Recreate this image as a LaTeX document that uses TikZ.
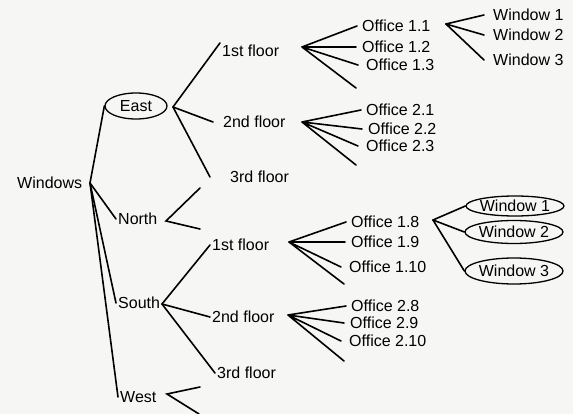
\documentclass[tikz,border=0pt]{standalone}
\usepackage{fontspec}
\setmainfont{Liberation Sans}
\usepackage{tikz}
\usetikzlibrary{shapes.geometric,calc}
\definecolor{paper}{RGB}{246,246,244}

\begin{document}
\begin{tikzpicture}[x=1pt, y=-1pt,
  lbl/.style={anchor=west, inner sep=2pt, font=\fontsize{16}{19}\selectfont},
  oval/.style={draw, ellipse, line width=1.3pt, inner sep=0pt, minimum width=98pt, font=\fontsize{16}{19}\selectfont},
  br/.style={line width=1.6pt, line cap=round}]
  \fill[paper] (0,0) rectangle (573,414);
  \useasboundingbox (0,0) rectangle (573,414);
  % root and the four sides
  \node[lbl] (windows) at (15,183) {Windows};
  \coordinate (winJ) at (90,183);
  \node[oval, minimum width=62pt, minimum height=26pt] (dirE) at (136,106) {East};
  \node[lbl] (dirN) at (116,219) {North};
  \node[lbl] (dirS) at (116,303) {South};
  \node[lbl] (dirW) at (118,397) {West};
  \foreach \n in {dirE.west, dirN.west, dirS.west, dirW.west}
    \draw[br] (winJ) -- (\n);
  % floors
  \coordinate (eJ) at (173,107);
  \node[lbl] (e1) at (220,51) {1st floor};
  \node[lbl] (e2) at (221,122) {2nd floor};
  \node[lbl] (e3) at (228,177) {3rd floor};
  \draw[br] (eJ) -- (e1.north west);
  \draw[br] (eJ) -- ([xshift=-8pt]e2.west);
  \draw[br] (eJ) -- ([xshift=-18pt]e3.west);
  \coordinate (nJ) at (166,221);
  \coordinate (n1) at (200,188);
  \coordinate (n2) at (200,229);
  \draw[br] (n1) -- (nJ) -- (n2);
  \coordinate (sJ) at (162,304);
  \node[lbl] (s1) at (210,245) {1st floor};
  \node[lbl] (s2) at (210,317) {2nd floor};
  \node[lbl] (s3) at (215,373) {3rd floor};
  \foreach \n in {s1, s2, s3}
    \draw[br] (sJ) -- (\n.west);
  \coordinate (wJ) at (167,394);
  \coordinate (w1) at (200,387);
  \coordinate (w2) at (199,414);
  \draw[br] (w1) -- (wJ) -- (w2);
  % offices
  \foreach \n/\x/\y/\t in {o11/360/26/1.1, o12/360/47/1.2, o13/364/65/1.3,
      o21/364/110/2.1, o22/366/129/2.2, o23/364/146/2.3,
      o18/349/222/1.8, o19/349/242/1.9, o110/347/267/1.10,
      o28/349/306/2.8, o29/348/323/2.9, o210/347/341/2.10}
    \node[lbl] (\n) at (\x,\y) {Office \t};
  \coordinate (aJ) at (302,47);
  \coordinate (x1) at (356,88);
  \coordinate (bJ) at (302,122);
  \coordinate (x2) at (356,165);
  \coordinate (cJ) at (289,242);
  \coordinate (x3) at (344,284);
  \coordinate (dJ) at (288,315);
  \coordinate (x4) at (344,361);
  \foreach \j/\a/\b/\c/\d in {aJ/o11/o12/o13/x1, bJ/o21/o22/o23/x2,
      cJ/o18/o19/o110/x3, dJ/o28/o29/o210/x4}
    \draw[br] (\j) -- ([xshift=-3pt]\a.west) (\j) -- ([xshift=-4pt]\b.west)
      (\j) -- ([xshift=-6pt]\c.west) (\j) -- (\d);
  % windows
  \coordinate (kJ) at (446,24);
  \node[lbl] (k1) at (491,15) {Window 1};
  \node[lbl] (k2) at (491,35) {Window 2};
  \node[lbl] (k3) at (491,60) {Window 3};
  \foreach \n in {k1, k2, k3}
    \draw[br] (kJ) -- ([xshift=-7pt]\n.west);
  \coordinate (vJ) at (433,220);
  \node[oval, minimum height=20pt] (v1) at (515,206) {\makebox[56pt]{Window 1}};
  \node[oval, minimum height=23pt] (v2) at (514,232) {\makebox[56pt]{Window 2}};
  \node[oval, minimum height=26pt] (v3) at (514,271) {\makebox[56pt]{Window 3}};
  \foreach \n in {v1, v2, v3}
    \draw[br] (vJ) -- (\n.west);
\end{tikzpicture}
\end{document}
